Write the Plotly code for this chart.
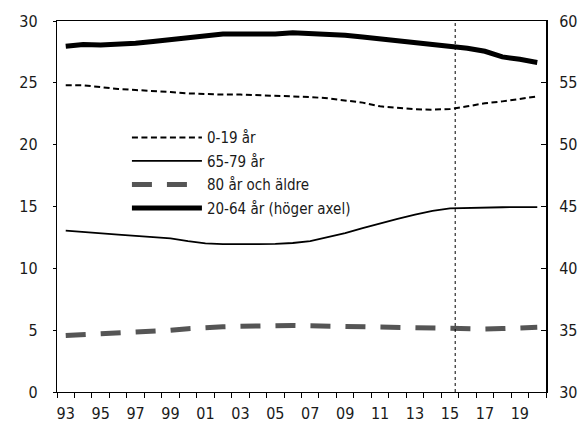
import plotly.graph_objects as go

years = list(range(1993, 2021))

# Befolkningsandelar (procent)
age_0_19 = [24.8, 24.8, 24.65, 24.5, 24.42, 24.35, 24.26, 24.15, 24.08, 24.05,
            24.05, 24.0, 23.95, 23.92, 23.85, 23.75, 23.6, 23.4, 23.1, 22.95,
            22.86, 22.83, 22.88, 23.1, 23.35, 23.5, 23.7, 23.9]
age_65_79 = [13.05, 12.92, 12.82, 12.72, 12.62, 12.52, 12.42, 12.2, 12.02, 11.95,
             11.93, 11.95, 11.98, 12.05, 12.2, 12.5, 12.85, 13.25, 13.65, 14.0,
             14.35, 14.65, 14.85, 14.9, 14.92, 14.94, 14.95, 14.95]
age_80_plus = [4.56, 4.62, 4.69, 4.76, 4.83, 4.9, 4.99, 5.12, 5.22, 5.27,
               5.31, 5.35, 5.38, 5.38, 5.35, 5.32, 5.29, 5.26, 5.23, 5.2,
               5.16, 5.12, 5.09, 5.08, 5.1, 5.13, 5.17, 5.23]
age_20_64 = [57.95, 58.1, 58.05, 58.1, 58.2, 58.35, 58.5, 58.7, 58.85, 58.95,
             58.95, 58.9, 58.95, 59.05, 59.0, 58.95, 58.85, 58.7, 58.55, 58.45,
             58.3, 58.15, 57.95, 57.8, 57.55, 57.1, 56.9, 56.65]

label_years = list(range(1993, 2020, 2))
label_text = [f"{y % 100:02d}" for y in label_years]
forecast_start = 2015.3

FONT = "DejaVu Sans Condensed, DejaVu Sans, sans-serif"
INK = "#1a1a1a"

fig = go.Figure()
fig.add_trace(go.Scatter(x=years, y=age_0_19, name="0-19 år", mode="lines",
                         legendgroup="a",
                         line=dict(color="black", width=2, dash="6px,3.5px")))
fig.add_trace(go.Scatter(x=years, y=age_65_79, name="65-79 år", mode="lines",
                         legendgroup="b",
                         line=dict(color="black", width=1.8)))
fig.add_trace(go.Scatter(x=years, y=age_80_plus, name="80 år och äldre", mode="lines",
                         legendgroup="c",
                         line=dict(color="#555555", width=5, dash="20px,15px")))
fig.add_trace(go.Scatter(x=years, y=age_20_64, name="20-64 år (höger axel)", mode="lines",
                         legendgroup="d", yaxis="y2",
                         line=dict(color="black", width=5)))

# prognosperiodens början
fig.add_shape(type="line", xref="x", yref="y", x0=forecast_start, x1=forecast_start,
              y0=0, y1=30, line=dict(color="black", width=1, dash="dot"))

fig.update_layout(
    width=583, height=424,
    margin=dict(l=57, r=37, t=21, b=32, autoexpand=False),
    paper_bgcolor="white", plot_bgcolor="white",
    font=dict(family=FONT, size=16, color=INK),
    showlegend=True,
    legend=dict(x=0.143, y=0.73, xanchor="left", yanchor="top",
                bgcolor="rgba(0,0,0,0)", itemwidth=70, tracegroupgap=1,
                font=dict(family=FONT, size=15, color=INK)),
    xaxis=dict(range=[1992.5, 2020.5], tickmode="array", tickvals=label_years,
               ticktext=label_text, ticks="", showgrid=False, zeroline=False,
               showline=True, linecolor="black", linewidth=1.3, mirror=True,
               ticklabelstandoff=7, automargin=False,
               minor=dict(tick0=1992.5, dtick=1, ticks="outside", ticklen=5,
                          tickwidth=1, tickcolor="black", showgrid=False)),
    xaxis2=dict(range=[1992.5, 2020.5], overlaying="x", anchor="y", side="bottom",
                showticklabels=False, showgrid=False, zeroline=False, showline=False,
                tickmode="linear", tick0=1992.5, dtick=1, ticks="inside",
                ticklen=5, tickwidth=1, tickcolor="black", automargin=False),
    yaxis=dict(range=[0, 30], dtick=5, ticks="outside", ticklen=3, tickwidth=1,
               tickcolor="black", showgrid=False, zeroline=False, showline=True,
               linecolor="black", linewidth=1.3, ticklabelstandoff=12,
               automargin=False),
    yaxis2=dict(range=[30, 60], dtick=5, overlaying="y", side="right", anchor="x",
                ticks="inside", ticklen=5, tickwidth=1, tickcolor="black",
                showgrid=False, zeroline=False, showline=True, linecolor="black",
                linewidth=2, ticklabelstandoff=8, automargin=False),
)

fig.write_html("out.html")
